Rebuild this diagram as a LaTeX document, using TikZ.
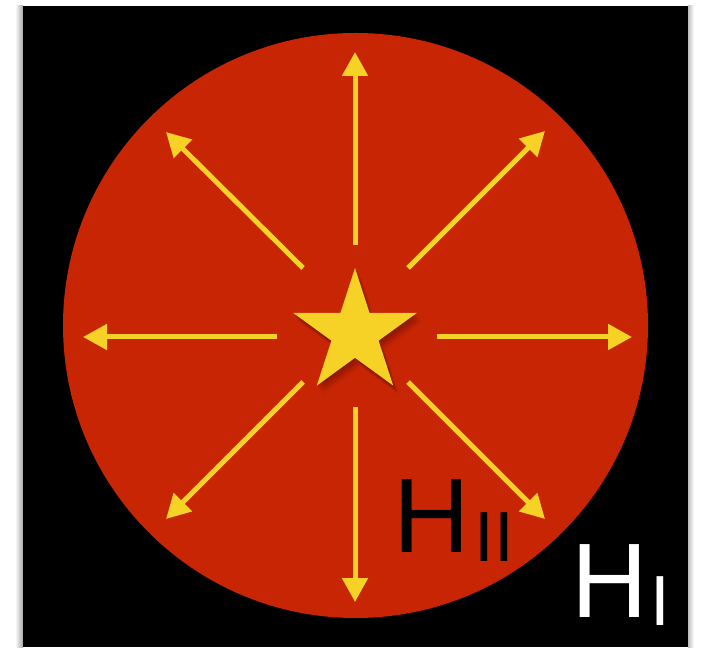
\documentclass[tikz,border=0pt]{standalone}
\usepackage{fontspec}
\setmainfont{Liberation Sans}
\usetikzlibrary{arrows.meta}
\definecolor{discred}{HTML}{C82504}
\definecolor{staryel}{HTML}{F6D227}
\definecolor{shadowred}{HTML}{7A1403}
\tikzset{
  ray/.style={draw=staryel, line width=5pt, -{Triangle[width=25pt,length=24pt]}},
  bigH/.style={anchor=base west, inner sep=0pt, font=\fontsize{106}{106}\selectfont},
  subH/.style={anchor=base west, inner sep=0pt, font=\fontsize{71}{71}\selectfont},
}
\begin{document}
\begin{tikzpicture}[x=1pt,y=1pt]
\useasboundingbox (0,0) rectangle (703,648);
% frame shadow and black square
\shade[left color=white, right color=black!35] (15,1) rectangle (23,642);
\shade[left color=black!25, right color=white] (688,1) rectangle (694,642);
\fill[black] (23,1) rectangle (688,642);
% red disc
\coordinate (c) at (355.5,322.5);
\fill[discred] (c) circle[radius=292.5pt];
% rays
\coordinate (upS) at (355,403); \coordinate (upT) at (355,596);
\coordinate (dnS) at (355,241); \coordinate (dnT) at (355,46);
\coordinate (lfS) at (277,311); \coordinate (lfT) at (83,311);
\coordinate (rtS) at (437,311); \coordinate (rtT) at (632,311);
\coordinate (nwS) at (303,380); \coordinate (nwT) at (166,516);
\coordinate (neS) at (408,380); \coordinate (neT) at (545,517);
\coordinate (swS) at (303,266); \coordinate (swT) at (166,129);
\coordinate (seS) at (408,266); \coordinate (seT) at (545,129);
\foreach \r in {up,dn,lf,rt,nw,ne,sw,se}{
  \draw[ray] (\r S) -- (\r T);
}
% star with soft shadow
\coordinate (s) at (355,315);
\foreach \dx/\dy/\op in {1.5/-2.5/0.35, 3/-5/0.3, 4.5/-7/0.2, 6/-9/0.1}{
  \fill[shadowred, opacity=\op]
    ([shift={(\dx,\dy)}]s) +(90:65pt) -- +(126:24.8pt) -- +(162:65pt) -- +(198:24.8pt)
    -- +(234:65pt) -- +(270:24.8pt) -- +(306:65pt) -- +(342:24.8pt)
    -- +(18:65pt) -- +(54:24.8pt) -- cycle;
}
\fill[staryel] (s) +(90:65pt) -- +(126:24.8pt) -- +(162:65pt) -- +(198:24.8pt)
    -- +(234:65pt) -- +(270:24.8pt) -- +(306:65pt) -- +(342:24.8pt)
    -- +(18:65pt) -- +(54:24.8pt) -- cycle;
% labels
\node[bigH, text=black] (h2) at (393.5,96) {H};
\node[subH, text=black] (h2sub) at (474.5,87) {II};
\node[bigH, text=white] (h1) at (571.5,31) {H};
\node[subH, text=white] (h1sub) at (650.5,23) {I};
\end{tikzpicture}
\end{document}
